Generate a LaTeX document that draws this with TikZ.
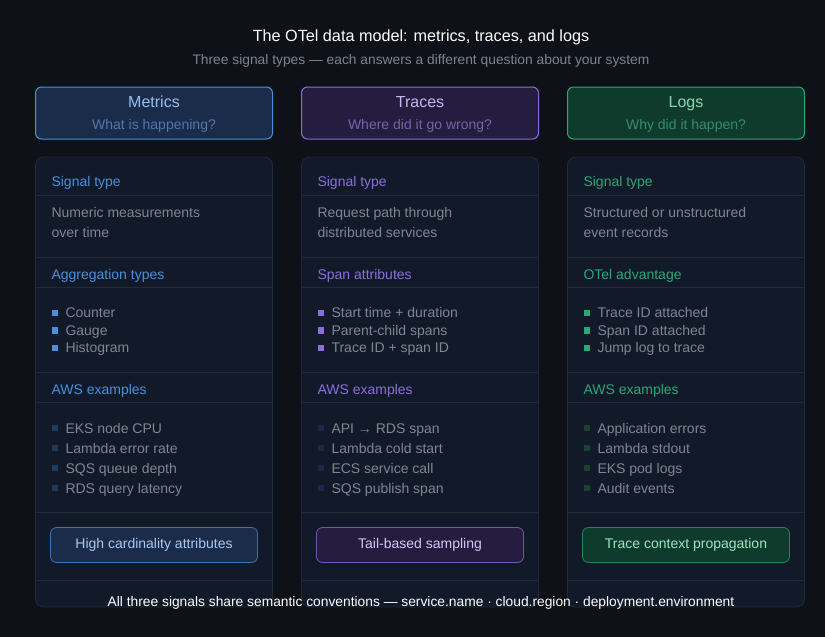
\documentclass[tikz,border=0pt]{standalone}
\usepackage{fontspec}
\setmainfont{Liberation Sans}
\definecolor{bgDark}{HTML}{0E1117}
\definecolor{panelFill}{HTML}{121A2A}
\definecolor{panelLine}{HTML}{1F2A3C}
\definecolor{greyText}{HTML}{7F8591}
\definecolor{subText}{HTML}{7D8390}
\definecolor{metBlue}{HTML}{4A8FDB}
\definecolor{metFill}{HTML}{1B2C4B}
\definecolor{metDim}{HTML}{1F3B5E}
\definecolor{metText}{HTML}{A9C8F0}
\definecolor{trPurple}{HTML}{8A6FDA}
\definecolor{trFill}{HTML}{241D40}
\definecolor{trDim}{HTML}{2A2349}
\definecolor{trText}{HTML}{D3C8F5}
\definecolor{logGreen}{HTML}{2AA876}
\definecolor{logFill}{HTML}{0F3B2D}
\definecolor{logDim}{HTML}{17432F}
\definecolor{logText}{HTML}{9FE3C3}
\tikzset{
    headBox/.style={rectangle, rounded corners=6pt, minimum width=237pt, minimum height=52pt, line width=1pt},
    panelBox/.style={rectangle, rounded corners=8pt, minimum width=237pt, minimum height=450pt, fill=panelFill, draw=panelLine, line width=0.8pt},
    pillBox/.style={rectangle, rounded corners=6pt, minimum width=207pt, minimum height=35pt, line width=0.8pt, text height=10pt, text depth=3pt, font=\fontsize{14}{16}\selectfont},
    secLabel/.style={anchor=west, text height=10pt, text depth=3pt, font=\fontsize{14}{16}\selectfont},
    bodyText/.style={anchor=west, text=greyText, text height=10pt, text depth=3pt, font=\fontsize{14}{20}\selectfont, align=left},
    bulletSq/.style={rectangle, minimum size=6.5pt, inner sep=0pt}
}
\begin{document}
\begin{tikzpicture}[x=1pt, y=-1pt]
    \fill[bgDark] (0,0) rectangle (825,637);
    \useasboundingbox (0,0) rectangle (825,637);

    \node (title) at (421,37) [text=white, font=\fontsize{16.2}{18}\selectfont] {The OTel data model: metrics, traces, and logs};
    \node (subtitle) at (421,61) [text=subText, font=\fontsize{13.8}{15}\selectfont] {Three signal types — each answers a different question about your system};

    % one column per signal
    \foreach \cx/\acc/\hfill/\dim/\ptext/\name/\quest/\secB/\sigA/\sigB/\bA/\bB/\bC/\eA/\eB/\eC/\eD/\pill/\id in {
        154/metBlue/metFill/metDim/metText/Metrics/What is happening?/Aggregation types/Numeric measurements/over time/Counter/Gauge/Histogram/EKS node CPU/Lambda error rate/SQS queue depth/RDS query latency/High cardinality attributes/met,
        420/trPurple/trFill/trDim/trText/Traces/Where did it go wrong?/Span attributes/Request path through/distributed services/Start time + duration/Parent-child spans/Trace ID + span ID/API → RDS span/Lambda cold start/ECS service call/SQS publish span/Tail-based sampling/tr,
        686/logGreen/logFill/logDim/logText/Logs/Why did it happen?/OTel advantage/Structured or unstructured/event records/Trace ID attached/Span ID attached/Jump log to trace/Application errors/Lambda stdout/EKS pod logs/Audit events/Trace context propagation/log} {
        \node (\id-head) at (\cx,113) [headBox, draw=\acc, fill=\hfill] {};
        \node (\id-name) at (\cx,103) [text=\ptext!80!\acc, text height=11pt, text depth=3pt, font=\fontsize{16}{18}\selectfont] {\name};
        \node (\id-quest) at (\cx,126) [text=\acc!70!greyText!80!\hfill, text height=10pt, text depth=3pt, font=\fontsize{14}{16}\selectfont] {\quest};

        \node (\id-panel) at (\cx,382) [panelBox] {};
        \foreach \ly in {195,257,287,372,402,512,580}
            \draw[panelLine, line width=0.8pt] (\cx-118,\ly) -- (\cx+118,\ly);

        \node (\id-sig) at (\cx-106,183) [secLabel, text=\acc] {Signal type};
        \node (\id-sigtext) at (\cx-106,222) [anchor=west, text=greyText, font=\fontsize{14}{20}\selectfont, align=left] {\sigA\\\sigB};
        \node (\id-sec) at (\cx-106,276) [secLabel, text=\acc] {\secB};
        \node (\id-aws) at (\cx-106,391) [secLabel, text=\acc] {AWS examples};

        \foreach \t [count=\i] in {\bA,\bB,\bC} {
            \node (\id-bsq\i) at (\cx-99,295.5+17.5*\i) [bulletSq, fill=\acc] {};
            \node (\id-b\i) at (\cx-92,296.5+17.5*\i) [bodyText] {\t};
        }
        \foreach \t [count=\i] in {\eA,\eB,\eC,\eD} {
            \node (\id-esq\i) at (\cx-99,408+20*\i) [bulletSq, fill=\dim] {};
            \node (\id-e\i) at (\cx-92,409.5+20*\i) [bodyText] {\t};
        }
        \node (\id-pill) at (\cx,545) [pillBox, draw=\acc!80!black, fill=\hfill, text=\ptext] {\pill};
    }

    \node (footer) at (421,603) [text=white, font=\fontsize{13.8}{15}\selectfont] {All three signals share semantic conventions — service.name · cloud.region · deployment.environment};
\end{tikzpicture}
\end{document}
